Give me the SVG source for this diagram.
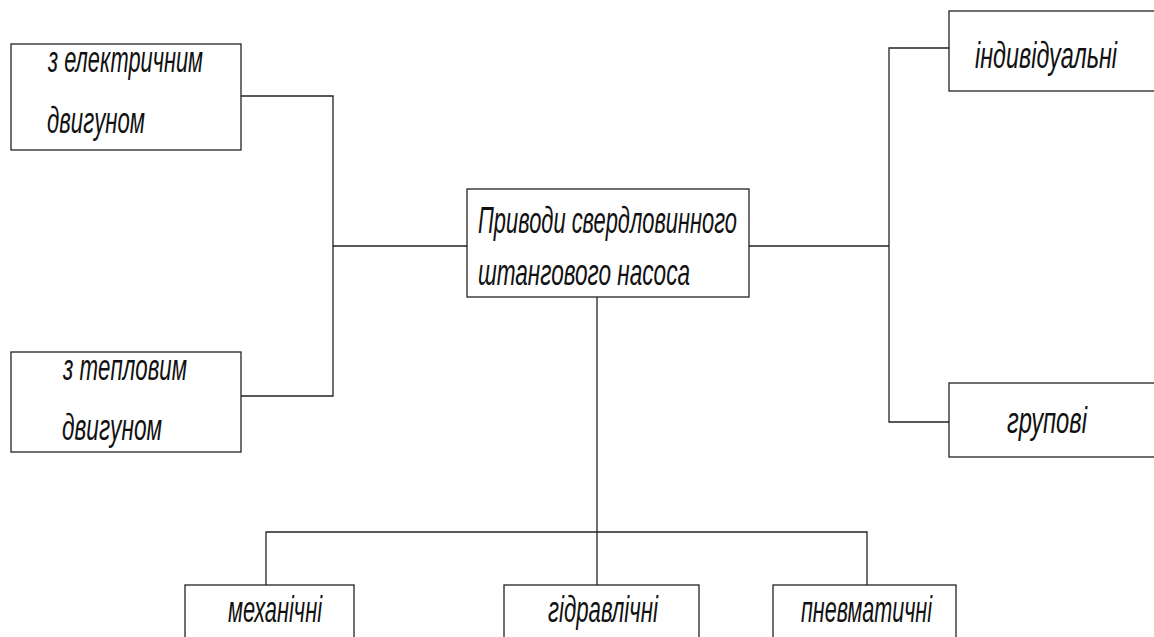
<svg xmlns="http://www.w3.org/2000/svg" width="1154" height="637" viewBox="0 0 1154 637">
<style>
.box{fill:#fff;stroke:#222;stroke-width:1.3}
.ln{fill:none;stroke:#222;stroke-width:1.3}
.t{font-family:"Liberation Sans","DejaVu Sans",sans-serif;font-style:italic;font-size:37px;fill:#111}
</style>
<rect width="1154" height="637" fill="#fff"/>
<g id="connectors">
<polyline class="ln" points="241,96 333,96 333,396 241,396"/>
<line class="ln" x1="333" y1="246" x2="467" y2="246"/>
<line class="ln" x1="749" y1="246" x2="889" y2="246"/>
<polyline class="ln" points="949,48 889,48 889,422 949,422"/>
<line class="ln" x1="597" y1="297" x2="597" y2="585"/>
<polyline class="ln" points="266,585 266,532 867,532 867,585"/>
</g>
<g id="n-electric">
<rect class="box" x="11" y="44" width="230" height="106"/>
<text class="t" x="48" y="72" textLength="155" lengthAdjust="spacingAndGlyphs">з електричним</text>
<text class="t" x="47" y="133" textLength="98" lengthAdjust="spacingAndGlyphs">двигуном</text>
</g>
<g id="n-thermal">
<rect class="box" x="11" y="352" width="230" height="100"/>
<text class="t" x="63" y="380" textLength="124" lengthAdjust="spacingAndGlyphs">з тепловим</text>
<text class="t" x="62" y="440" textLength="100" lengthAdjust="spacingAndGlyphs">двигуном</text>
</g>
<g id="n-center">
<rect class="box" x="467" y="189" width="282" height="108"/>
<text class="t" x="478" y="233" textLength="259" lengthAdjust="spacingAndGlyphs">Приводи свердловинного</text>
<text class="t" x="478" y="285" textLength="212" lengthAdjust="spacingAndGlyphs">штангового насоса</text>
</g>
<g id="n-individual">
<rect class="box" x="949" y="11" width="210" height="80"/>
<text class="t" x="975" y="68" textLength="142" lengthAdjust="spacingAndGlyphs">індивідуальні</text>
</g>
<g id="n-group">
<rect class="box" x="949" y="383" width="210" height="74"/>
<text class="t" x="1007" y="433" textLength="80" lengthAdjust="spacingAndGlyphs">групові</text>
</g>
<g id="n-mechanical">
<rect class="box" x="185" y="585" width="169" height="60"/>
<text class="t" x="228" y="622" textLength="94" lengthAdjust="spacingAndGlyphs">механічні</text>
</g>
<g id="n-hydraulic">
<rect class="box" x="504" y="585" width="195" height="60"/>
<text class="t" x="548" y="622" textLength="110" lengthAdjust="spacingAndGlyphs">гідравлічні</text>
</g>
<g id="n-pneumatic">
<rect class="box" x="773" y="585" width="183" height="60"/>
<text class="t" x="801" y="622" textLength="131" lengthAdjust="spacingAndGlyphs">пневматичні</text>
</g>
</svg>
